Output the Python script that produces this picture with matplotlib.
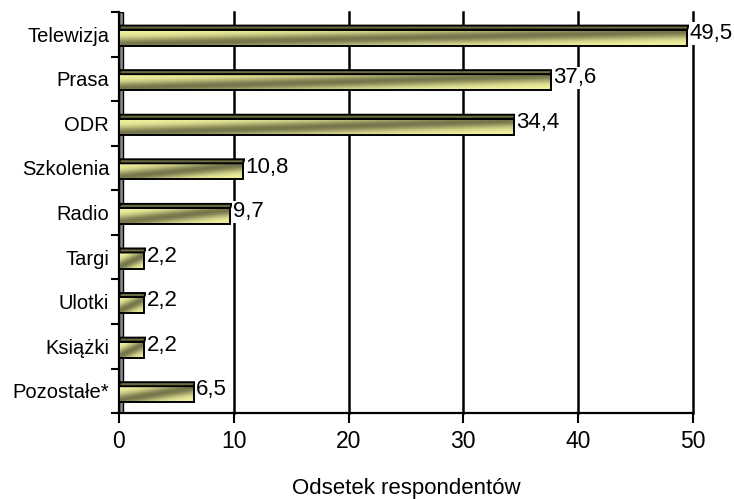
import numpy as np
import matplotlib
matplotlib.use('Agg')
import matplotlib.pyplot as plt
from matplotlib.patches import Polygon, Rectangle
from matplotlib.colors import to_rgb

# dane
categories = ['Telewizja', 'Prasa', 'ODR', 'Szkolenia', 'Radio',
              'Targi', 'Ulotki', 'Książki', 'Pozostałe*']
values = [49.5, 37.6, 34.4, 10.8, 9.7, 2.2, 2.2, 2.2, 6.5]
labels = ['49,5', '37,6', '34,4', '10,8', '9,7', '2,2', '2,2', '2,2', '6,5']
xticks = [0, 10, 20, 30, 40, 50]

plt.rcParams['font.family'] = ['Liberation Sans', 'DejaVu Sans']

fig = plt.figure(figsize=(7.34, 4.99), dpi=100)
ax = fig.add_axes([0.162, 0.172, 0.782, 0.804])

light = np.array(to_rgb('#f2f29e'))
dark = np.array(to_rgb('#76764c'))

bar_h = 0.36    # przednia sciana
top_d = 0.09    # glebokosc (gorna sciana)
dx = 0.12

# siatka w tle
for xt in xticks[1:]:
    ax.plot([xt, xt], [-0.5, 8.5], color='black', lw=1.8, zorder=1, clip_on=False)

# sciana boczna
ax.add_patch(Rectangle((0, -0.5), 0.4, 9.0, facecolor='#8c8c8c',
                       edgecolor='black', lw=1.0, zorder=2))

for i, v in enumerate(values):
    y0 = i - bar_h / 2 + top_d / 2 + 0.03
    y1 = y0 + bar_h
    # gradient po przekatnej
    ny, nx = 40, 120
    yy, xx = np.mgrid[0:1:ny * 1j, 0:1:nx * 1j]
    p = 0.9 - 0.75 * xx
    t = np.exp(-((yy - p) / 0.38) ** 2)
    img = light[None, None, :] * (1 - t[..., None]) + dark[None, None, :] * t[..., None]
    ax.imshow(img, extent=(0, v, y1, y0), aspect='auto', origin='upper',
              interpolation='bilinear', zorder=3)
    ax.add_patch(Rectangle((0, y0), v, bar_h, facecolor='none',
                           edgecolor='black', lw=1.4, zorder=4))
    # gorna sciana
    ax.add_patch(Polygon([(0, y0), (v, y0), (v + dx, y0 - top_d), (dx, y0 - top_d)],
                         closed=True, facecolor='#6c6c42', edgecolor='black',
                         lw=1.4, zorder=4))
    ax.text(v + 0.2, i - 0.02, labels[i], ha='left', va='center', fontsize=16,
            zorder=5, bbox=dict(facecolor='white', edgecolor='none', pad=0.5))

ax.set_xlim(0, 50)
ax.set_ylim(8.5, -0.5)

ax.set_xticks(xticks)
ax.set_xticklabels([str(x) for x in xticks], fontsize=16.5)
ax.tick_params(axis='x', direction='out', length=7, width=1.5, pad=5)

ax.set_yticks(range(len(categories)))
ax.set_yticklabels(categories, fontsize=14.5)
ax.set_yticks(np.arange(-0.5, 9.0, 1.0), minor=True)
ax.tick_params(axis='y', which='major', length=0, pad=7)
ax.tick_params(axis='y', which='minor', direction='out', length=6, width=1.5)

for s in ['top', 'right']:
    ax.spines[s].set_visible(False)
ax.spines['left'].set_linewidth(1.6)
ax.spines['bottom'].set_linewidth(1.6)

ax.set_xlabel('Odsetek respondentów', fontsize=16, labelpad=18)

fig.savefig('out.png', dpi=100)
